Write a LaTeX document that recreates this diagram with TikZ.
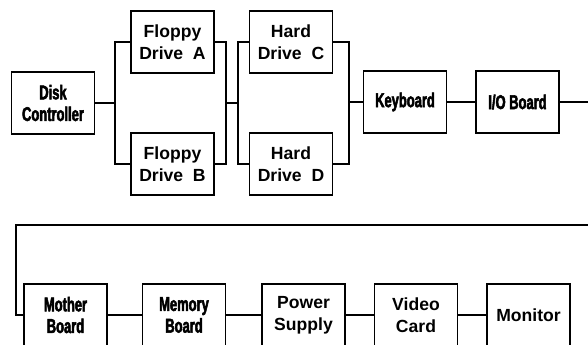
\documentclass[tikz,border=0pt]{standalone}
\usepackage{fontspec}
\setmainfont{Liberation Sans}
\newfontfamily\narrowfont[FakeStretch=0.65,FakeBold=2.5]{Liberation Sans Bold}
\usepackage{tikz}
\usetikzlibrary{positioning,calc}

\begin{document}
\begin{tikzpicture}[
  x=0.03cm, y=-0.03cm,
  box/.style={draw, line width=0.9pt, minimum width=2.49cm,
              minimum height=1.86cm, inner sep=0pt, align=center,
              font=\fontsize{15}{18.5}\selectfont\bfseries},
  slim/.style={box, font=\narrowfont\fontsize{17}{18.5}\selectfont},
  link/.style={line width=0.9pt}
]
\useasboundingbox (0,0) rectangle (588,345);

% top row
\node[slim] (disk) at (53,103)    {Disk\\Controller};
\node[box]  (flopA) at (172.5,42) {Floppy\\Drive\ \ A};
\node[box]  (flopB) at (172.5,164) {Floppy\\Drive\ \ B};
\node[box]  (hardC) at (291,42)   {Hard\\Drive\ \ C};
\node[box]  (hardD) at (291,164)  {Hard\\Drive\ \ D};
\node[slim] (keyb) at (405,102)   {Keyboard};
\node[slim] (iob) at (517.5,102)  {I/O Board};

% bottom row
\node[slim] (mother) at (65.5,315) {Mother\\Board};
\node[slim] (memory) at (184,315)  {Memory\\Board};
\node[box]  (power) at (303.5,315) {Power\\Supply};
\node[box]  (video) at (416,315)   {Video\\Card};
\node[box]  (monitor) at (528.5,315) {Monitor};

% buses
\coordinate (busA) at (115,103);
\coordinate (busB) at (226,103);
\coordinate (busC) at (238,103);
\coordinate (busD) at (349,102);
\coordinate (wrapR) at (598,225);
\coordinate (wrapL) at (16,225);

\draw[link] (disk) -- (busA);
\draw[link] (flopA.west) -| (busA) |- (flopB.west);
\draw[link] (flopA.east) -| (busB) |- (flopB.east);
\draw[link] (busB) -- (busC);
\draw[link] (hardC.west) -| (busC) |- (hardD.west);
\draw[link] (hardC.east) -| (busD) |- (hardD.east);
\draw[link] (busD) -- (keyb);
\draw[link] (keyb) -- (iob);
\draw[link] (iob.east) -| (wrapR) -- (wrapL) |- (mother.west);

\draw[link] (mother) -- (memory);
\draw[link] (memory) -- (power);
\draw[link] (power) -- (video);
\draw[link] (video) -- (monitor);

\end{tikzpicture}
\end{document}
